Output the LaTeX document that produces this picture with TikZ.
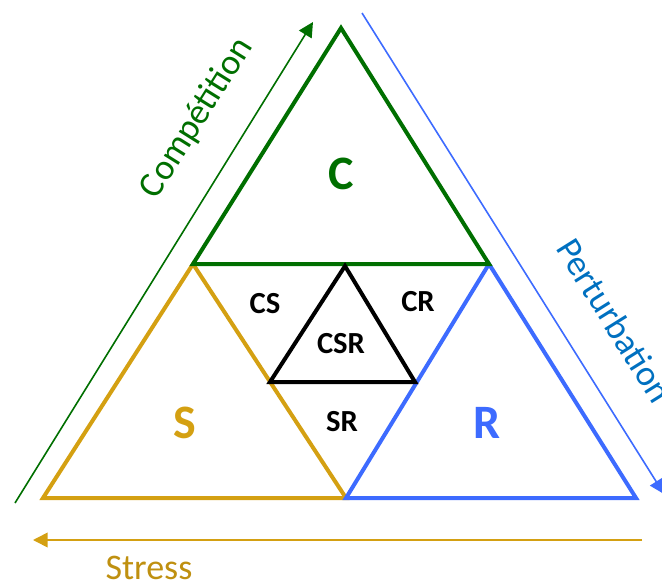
\documentclass[tikz,border=0pt]{standalone}
\usepackage{fontspec}
\setmainfont{Carlito}
\definecolor{CompGreen}{HTML}{006F00}
\definecolor{StressGold}{HTML}{D4A012}
\definecolor{RudBlue}{HTML}{3D6BFF}
\definecolor{PertBlue}{HTML}{0070C0}
\usetikzlibrary{arrows.meta, positioning, calc}
\tikzset{
  % Triangle styles
  tri/.style={line width=3pt, line join=miter},
  % Arrow styles
  axisarrow/.style={-{Triangle[length=11pt, width=11pt]}, line width=1.2pt},
  % Label styles
  biglabel/.style={font=\fontsize{36}{40}\selectfont\bfseries},
  midlabel/.style={font=\fontsize{23}{26}\selectfont\bfseries, text=black},
  axislabel/.style={font=\fontsize{27}{30}\selectfont}
}

\begin{document}
\begin{tikzpicture}[x=0.75pt, y=-0.75pt]
  \useasboundingbox (0,0) rectangle (662,586);

  % Corners
  \coordinate (top) at (341,28);
  \coordinate (bl) at (43,498);
  \coordinate (br) at (636,498);
  \coordinate (cl) at (193,264);
  \coordinate (cr) at (489,264);
  \coordinate (sr) at (346,498);
  \coordinate (in1) at (345,266);
  \coordinate (in2) at (270,382);
  \coordinate (in3) at (415,382);

  % Strategy triangles
  \draw[tri, StressGold] (cl) -- (bl) -- (sr) -- cycle;
  \draw[tri, RudBlue] (cr) -- (sr) -- (br) -- cycle;
  \draw[tri, CompGreen] (top) -- (cl) -- (cr) -- cycle;
  \draw[tri, black] (in1) -- (in2) -- (in3) -- cycle;

  % Gradient arrows
  \coordinate (compA) at (15,503);
  \coordinate (compB) at (313,22);
  \coordinate (pertA) at (362,13);
  \coordinate (pertB) at (664,494);
  \coordinate (strA) at (642,540);
  \coordinate (strB) at (33,540);
  \draw[axisarrow, CompGreen] (compA) -- (compB);
  \draw[axisarrow, RudBlue] (pertA) -- (pertB);
  \draw[axisarrow, StressGold] (strA) -- (strB);

  % Axis labels
  \node[axislabel, text=CompGreen, rotate=58] (comp) at (197,118) {Compétition};
  \node[axislabel, text=PertBlue, rotate=-58, anchor=west] (pert) at (563,238) {Perturbation};
  \node[axislabel, text=StressGold!90!black] (stress) at (149,568) {Stress};

  % Strategy labels
  \node[biglabel, text=CompGreen] (lc) at (341,174) {C};
  \node[biglabel, text=StressGold] (ls) at (185,423) {S};
  \node[biglabel, text=RudBlue] (lr) at (487,423) {R};
  \node[midlabel] (lcs) at (265,304) {CS};
  \node[midlabel] (lcr) at (418,302) {CR};
  \node[midlabel] (lcsr) at (341,344) {CSR};
  \node[midlabel] (lsr) at (342,422) {SR};
\end{tikzpicture}
\end{document}
